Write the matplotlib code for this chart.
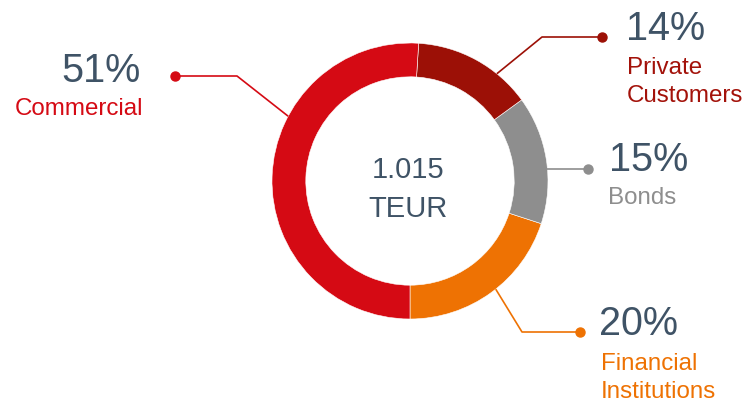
import numpy as np
import matplotlib.pyplot as plt

plt.rcParams['font.family'] = ['Liberation Sans', 'DejaVu Sans']

# data (drawn counterclockwise from the bottom)
categories = ['Financial\nInstitutions', 'Bonds', 'Private\nCustomers', 'Commercial']
shares = [20, 15, 14, 51]
colors = ['#ee7203', '#8e8e8e', '#9c1006', '#d50a14']
label_colors = ['#ee7203', '#8e8e8e', '#a3120a', '#d50a14']
total_lines = ['1.015', 'TEUR']

W, H = 749, 406
cx, cy, R = 410, H - 182, 138
dark = '#3f5366'

fig = plt.figure(figsize=(W / 100, H / 100), dpi=100)
ax = fig.add_axes([0, 0, 1, 1])

ax.pie(shares, colors=colors, startangle=-90, counterclock=True,
       radius=R, center=(cx, cy), frame=True,
       wedgeprops=dict(width=R * 0.245, edgecolor='white', linewidth=0.4))
ax.set_xlim(0, W)
ax.set_ylim(0, H)
ax.set_aspect('equal')
ax.axis('off')

for i, line in enumerate(total_lines):
    ax.text(cx - 2, H - 178 - 39 * i, line, ha='center', va='baseline',
            fontsize=21, color=dark)

# connector layout: angle on ring, elbow, dot, text anchors (image px)
layout = [
    (-51.6, (522, 333), (580, 333), 'left', (599, 335), (601, 370)),
    (-5.0, None, (588, 170), 'left', (609, 171), (608, 204)),
    (51.0, (542, 38), (602, 38), 'left', (626, 40), (627, 74)),
    (152.0, (237, 77), (175, 77), 'right', (141, 82), (143, 115)),
]

for (ang, elbow, dot, side, ppos, lpos), name, pct, col, lcol in zip(
        layout, categories, shares, colors, label_colors):
    a = np.deg2rad(ang)
    x0, y0 = cx + R * np.cos(a), cy + R * np.sin(a)
    xs, ys = [x0], [y0]
    if elbow is not None:
        xs.append(elbow[0]); ys.append(H - elbow[1])
    else:
        ys[0] = H - dot[1]
    xs.append(dot[0]); ys.append(H - dot[1])
    ax.plot(xs, ys, color=col, lw=1.2, solid_capstyle='butt', zorder=1)
    ax.plot(dot[0], H - dot[1], 'o', color=col, ms=6.5, zorder=2)
    ax.text(ppos[0], H - ppos[1], f'{pct}%', ha=side, va='baseline',
            fontsize=28.5, color=dark)
    for i, line in enumerate(name.split('\n')):
        ax.text(lpos[0], H - lpos[1] - 28 * i, line, ha=side,
                va='baseline', fontsize=17.4, color=lcol)

fig.savefig('out.png', dpi=100)
